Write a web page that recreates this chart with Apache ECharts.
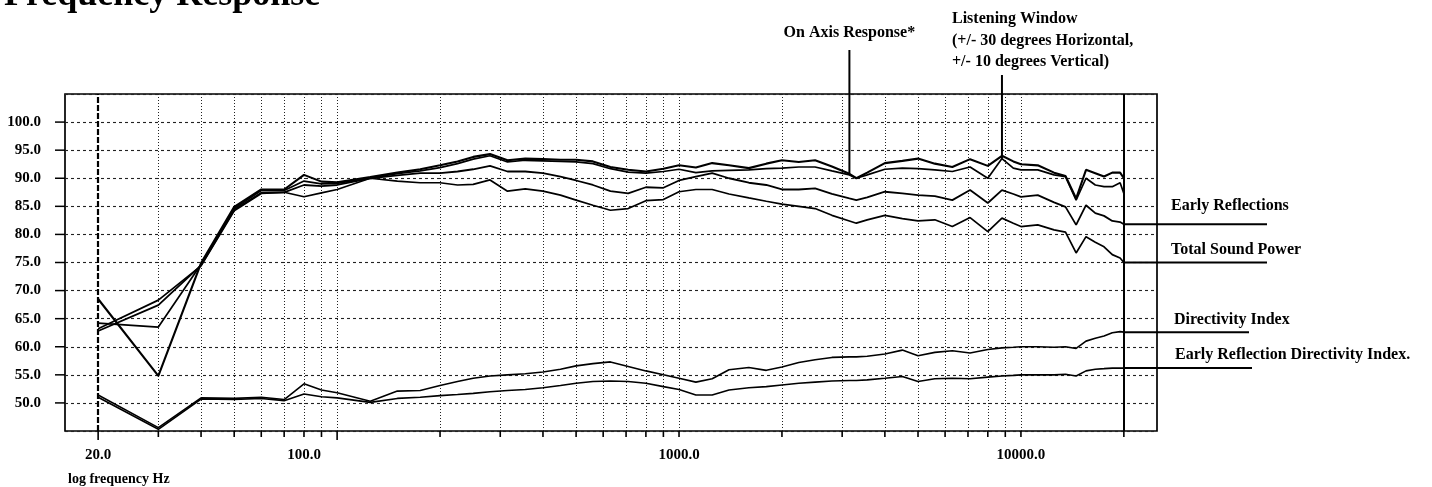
<!DOCTYPE html>
<html><head><meta charset="utf-8">
<script src="https://cdn.jsdelivr.net/npm/echarts@6/dist/echarts.min.js"></script>
<style>html,body{margin:0;padding:0;background:#fff}#c{width:1432px;height:487px}</style>
</head><body><div id="c"></div>
<script>
// ---------- data (Hz / dB) ----------
const freqs = [20,30,40,50,60,70,80,90,100,125,150,175,200,225,250,280,315,355,400,450,500,560,630,710,800,900,1000,1120,1250,1400,1600,1800,2000,2240,2500,2800,3150,3300,3550,4000,4500,5000,5600,6300,7100,8000,8800,9500,10000,11200,12500,13500,14500,15500,16500,17500,18500,19500,20000];
const onAxis = [68.5,54.8,74.9,84.9,88.0,88.0,90.6,89.4,89.3,90.2,91.0,91.6,92.3,93.0,93.8,94.3,93.2,93.5,93.4,93.3,93.3,93.0,92.0,91.5,91.2,91.7,92.3,91.9,92.7,92.3,91.8,92.6,93.2,92.9,93.2,92.1,90.8,90.0,91.0,92.7,93.1,93.5,92.6,92.0,93.4,92.2,94.0,93.0,92.5,92.3,91.0,90.4,86.4,91.5,90.9,90.3,91.0,91.0,90.0];
const listeningWindow = [64.2,63.5,74.7,84.6,87.8,87.8,89.5,89.0,89.1,90.1,90.8,91.3,91.9,92.6,93.4,94.0,92.9,93.2,93.1,93.0,92.9,92.6,91.7,91.1,90.9,91.2,91.6,91.0,91.3,91.4,91.5,91.7,91.8,92.0,92.0,91.3,90.6,90.0,90.6,91.6,91.8,91.7,91.5,91.2,92.0,90.0,93.5,91.8,91.5,91.5,90.6,90.3,86.1,90.0,88.8,88.5,88.5,89.2,87.3];
const earlyReflections = [62.8,67.4,74.5,84.4,87.4,87.5,88.8,88.6,88.8,90.0,90.5,90.9,90.9,91.2,91.6,92.2,91.2,91.2,90.9,90.3,89.6,88.8,87.7,87.3,88.4,88.3,89.6,90.3,90.9,90.0,89.2,88.8,88.0,88.0,88.2,87.2,86.4,86.1,86.6,87.6,87.3,87.0,86.8,86.1,87.9,85.6,87.9,87.2,86.7,87.0,85.7,84.9,81.7,85.2,83.8,83.3,82.4,82.2,81.8];
const totalSoundPower = [63.2,68.3,74.4,84.2,87.3,87.5,86.7,87.4,88.0,90.0,89.5,89.2,89.2,88.8,88.9,89.7,87.7,88.1,87.7,87.0,86.1,85.2,84.3,84.6,86.0,86.2,87.6,88.0,88.0,87.2,86.5,85.9,85.4,85.0,84.6,83.4,82.4,82.0,82.6,83.4,82.8,82.4,82.6,81.4,83.0,80.5,82.9,82.0,81.4,81.7,80.8,80.4,76.7,79.6,78.6,77.8,76.4,75.8,75.0];
const directivityIndex = [51.4,45.6,50.9,50.8,51.0,50.6,53.4,52.3,51.8,50.3,52.1,52.2,53.1,53.8,54.4,54.8,55.0,55.2,55.5,56.0,56.6,57.0,57.3,56.5,55.7,55.0,54.4,53.7,54.3,55.9,56.3,55.8,56.4,57.2,57.7,58.1,58.2,58.2,58.3,58.7,59.4,58.4,59.0,59.3,58.9,59.5,59.8,59.9,60.0,60.0,59.9,60.0,59.7,61.0,61.5,61.9,62.5,62.7,62.6];
const earlyReflectionDI = [51.0,45.3,50.7,50.6,50.8,50.4,51.6,51.1,50.9,50.1,50.8,51.0,51.3,51.5,51.7,52.0,52.2,52.4,52.7,53.1,53.5,53.8,53.9,53.8,53.5,52.9,52.4,51.4,51.4,52.3,52.7,52.9,53.2,53.5,53.7,53.9,54.0,54.0,54.1,54.4,54.7,53.8,54.3,54.4,54.3,54.6,54.8,54.9,55.0,55.0,55.0,55.1,54.8,55.7,56.0,56.1,56.2,56.2,56.2];

const xGridValues = [30,40,50,60,70,80,90,100,200,300,400,500,600,700,800,900,1000,2000,3000,4000,5000,6000,7000,8000,9000,10000];
const xTickValues = [20,30,40,50,60,70,80,90,100,200,300,400,500,600,700,800,900,1000,2000,3000,4000,5000,6000,7000,8000,9000,10000,20000];
const xLabelValues = [20,100,1000,10000];
const xLabelTexts = ['20.0','100.0','1000.0','10000.0'];
const yTickValues = [50,55,60,65,70,75,80,85,90,95,100];
const X_MIN = 16, X_MAX = 25000, Y_MIN = 45, Y_MAX = 105;

// ---------- rendering ----------
const FONT = '"Liberation Serif","Times New Roman",serif';
const pairs = vals => freqs.map((f, i) => [f, vals[i]]);
const chart = echarts.init(document.getElementById('c'), null, {renderer: 'canvas'});

const lineDefs = [
  {name: 'On Axis Response', vals: onAxis, w: 2.1},
  {name: 'Listening Window', vals: listeningWindow, w: 1.7},
  {name: 'Early Reflections', vals: earlyReflections, w: 1.8},
  {name: 'Total Sound Power', vals: totalSoundPower, w: 1.7},
  {name: 'Directivity Index', vals: directivityIndex, w: 1.6},
  {name: 'Early Reflection Directivity Index', vals: earlyReflectionDI, w: 1.6}
];

const series = lineDefs.map((d, i) => ({
  name: d.name, type: 'line', data: pairs(d.vals), showSymbol: false, symbol: 'none',
  lineStyle: {color: '#000', width: d.w}, z: 5, silent: true
}));

series[0].markLine = {
  silent: true, symbol: ['none', 'none'], label: {show: false}, animation: false,
  lineStyle: {color: '#222', type: [1, 2], width: 1},
  data: xGridValues.map(v => ({xAxis: v})).concat([
    {xAxis: 20, lineStyle: {color: '#000', type: [6, 2], width: 2.2}},
    {xAxis: 20000, lineStyle: {color: '#000', type: 'solid', width: 2}}
  ])
};

// x-axis ticks below the frame
series.push({
  type: 'custom', silent: true, z: 6,
  data: xTickValues.map(v => [v, Y_MIN]),
  renderItem: (params, api) => {
    const p = api.coord([api.value(0), api.value(1)]);
    const len = (api.value(0) === 20 || api.value(0) === 100) ? 9 : 6;
    return {type: 'line', shape: {x1: p[0], y1: p[1], x2: p[0], y2: p[1] + len},
      style: {stroke: '#000', lineWidth: 1.6}};
  }
});

// y-axis ticks left of the frame
series.push({
  type: 'custom', silent: true, z: 6,
  data: yTickValues.map(v => [X_MIN, v]),
  renderItem: (params, api) => {
    const p = api.coord([api.value(0), api.value(1)]);
    return {type: 'line', shape: {x1: p[0] - 10, y1: p[1], x2: p[0], y2: p[1]},
      style: {stroke: '#000', lineWidth: 1.5}};
  }
});

const LABEL_SHIFT = {100: -33};
series.push({
  type: 'custom', silent: true, z: 6,
  data: xLabelValues.map((v, i) => [v, Y_MIN, i]),
  renderItem: (params, api) => {
    const v = api.value(0);
    const p = api.coord([v, api.value(1)]);
    return {type: 'text', x: p[0] + (LABEL_SHIFT[v] || 0), y: p[1] + 24,
      style: {text: xLabelTexts[api.value(2)], font: 'bold 15px ' + FONT, fill: '#000',
        textAlign: 'center', textVerticalAlign: 'middle'}};
  }
});

chart.setOption({
  animation: false,
  backgroundColor: '#fff',
  grid: {left: 65, right: 275, top: 94, bottom: 56, show: true, borderColor: '#000', borderWidth: 1.7, containLabel: false},
  xAxis: {
    type: 'log', logBase: 10, min: X_MIN, max: X_MAX,
    axisLine: {show: false}, axisTick: {show: false}, axisLabel: {show: false}, splitLine: {show: false}
  },
  yAxis: {
    type: 'value', min: Y_MIN, max: Y_MAX, interval: 5,
    axisLine: {show: false},
    axisTick: {show: false},
    axisLabel: {margin: 24, color: '#000', fontFamily: FONT, fontWeight: 'bold', fontSize: 15,
      formatter: v => (v === Y_MIN || v === Y_MAX) ? '' : v.toFixed(1)},
    splitLine: {show: true, lineStyle: {color: '#222', type: [3, 3], width: 1.1}}
  },
  series: series
});

// ---------- annotations ----------
const px = (f, v) => chart.convertToPixel({gridIndex: 0}, [f, v]);
const last = arr => arr[arr.length - 1];
const iOA = freqs.indexOf(3150), iLW = freqs.indexOf(8800);
const oa = px(freqs[iOA], onAxis[iOA]);
const lw = px(freqs[iLW], listeningWindow[iLW]);
const TXT = 'bold 16px ' + FONT;
const txt = (s, x, y, align, font) => ({type: 'text', x: x, y: y, z: 10,
  style: {text: s, font: font || TXT, fill: '#000', textAlign: align || 'left', textVerticalAlign: 'middle'}});
const ln = (x1, y1, x2, y2, w) => ({type: 'line', z: 10, shape: {x1, y1, x2, y2}, style: {stroke: '#000', lineWidth: w || 2}});

const ends = [
  {vals: earlyReflections, label: 'Early Reflections', tx: 1171, ty: 206, rx: 1267},
  {vals: totalSoundPower, label: 'Total Sound Power', tx: 1171, ty: 250, rx: 1267},
  {vals: directivityIndex, label: 'Directivity Index', tx: 1174, ty: 320, rx: 1249},
  {vals: earlyReflectionDI, label: 'Early Reflection Directivity Index.', tx: 1175, ty: 355, rx: 1252}
];

const g = [
  txt('Frequency Response', 4, -4, 'left', 'bold 36px ' + FONT),
  txt('On Axis Response*', oa[0], 33, 'center'),
  ln(oa[0], 50, oa[0], oa[1], 2),
  txt('Listening Window', 952, 19),
  txt('(+/- 30 degrees Horizontal,', 952, 41),
  txt('+/- 10 degrees Vertical)', 952, 62),
  ln(lw[0], 75, lw[0], lw[1], 2),
  txt('log frequency Hz', 68, 479, 'left', 'bold 14px ' + FONT)
];
ends.forEach(e => {
  const p = px(last(freqs), last(e.vals));
  g.push(ln(p[0], p[1], e.rx, p[1], 2));
  g.push(txt(e.label, e.tx, e.ty));
});
chart.setOption({graphic: g});
</script>
</body></html>
